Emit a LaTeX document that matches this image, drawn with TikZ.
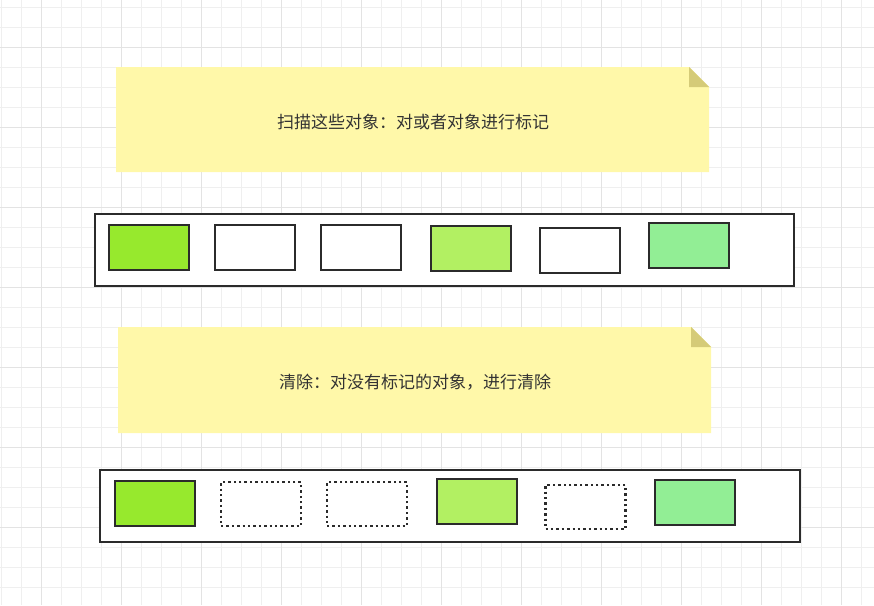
\documentclass[tikz,border=0pt]{standalone}
\usepackage{fontspec}
\newfontfamily\cjk{Noto Sans CJK SC}
\definecolor{gridminor}{HTML}{EFEFEF}
\definecolor{gridmajor}{HTML}{E3E3E3}
\definecolor{notefill}{HTML}{FFF8A9}
\definecolor{notefold}{HTML}{D5CB78}
\definecolor{gA}{HTML}{97E92D}
\definecolor{gB}{HTML}{B2F062}
\definecolor{gC}{HTML}{92EE95}
\definecolor{edge}{HTML}{2B2B2B}
\definecolor{txt}{HTML}{333333}
\tikzset{
  obj/.style={draw=edge, line width=2pt, minimum width=80pt, minimum height=45pt, inner sep=0pt, fill=white},
  gone/.style={draw=edge, line width=2.4pt, dash pattern=on 2.4pt off 3pt, minimum width=80pt, minimum height=44pt, inner sep=0pt, fill=white},
  heap/.style={draw=edge, line width=2pt, fill=white, inner sep=0pt},
  notetext/.style={text=txt, font=\cjk\fontsize{17}{20}\selectfont, inner sep=0pt}
}
\begin{document}
\begin{tikzpicture}[x=1pt,y=-1pt]
\useasboundingbox (0,0) rectangle (874,605);
\fill[white] (0,0) rectangle (874,605);
% grid
\foreach \x in {1,21,...,861} \draw[gridminor, line width=0.8pt] (\x,0) -- (\x,605);
\foreach \y in {7,27,...,600} \draw[gridminor, line width=0.8pt] (0,\y) -- (874,\y);
\foreach \x in {41,121,...,861} \draw[gridmajor, line width=0.9pt] (\x,0) -- (\x,605);
\foreach \y in {47,127,...,600} \draw[gridmajor, line width=0.9pt] (0,\y) -- (874,\y);

% note 1
\fill[notefill] (116,67) -- (689,67) -- (709,87) -- (709,172) -- (116,172) -- cycle;
\fill[notefold] (689,67) -- (709,87) -- (689,87) -- cycle;
\node[notetext] (t1) at (413,122) {扫描这些对象：对或者对象进行标记};

% heap 1
\node[heap, minimum width=699pt, minimum height=72pt] (h1) at (444.5,250) {};
\node[obj, fill=gA] (a1) at (149,247.5) {};
\node[obj] (a2) at (255,247.5) {};
\node[obj] (a3) at (361,247.5) {};
\node[obj, fill=gB] (a4) at (471,248.5) {};
\node[obj] (a5) at (580,250.5) {};
\node[obj, fill=gC] (a6) at (689,245.5) {};

% note 2
\fill[notefill] (118,327) -- (691,327) -- (711,347) -- (711,433) -- (118,433) -- cycle;
\fill[notefold] (691,327) -- (711,347) -- (691,347) -- cycle;
\node[notetext] (t2) at (415,382) {清除：对没有标记的对象，进行清除};

% heap 2
\node[heap, minimum width=700pt, minimum height=72pt] (h2) at (450,506) {};
\node[obj, fill=gA] (b1) at (155,503.5) {};
\node[gone] (b2) at (261,504) {};
\node[gone] (b3) at (367,504) {};
\node[obj, fill=gB] (b4) at (477,501) {};
\node[gone] (b5) at (585.5,507) {};
\node[obj, fill=gC] (b6) at (695,502) {};
\end{tikzpicture}
\end{document}
